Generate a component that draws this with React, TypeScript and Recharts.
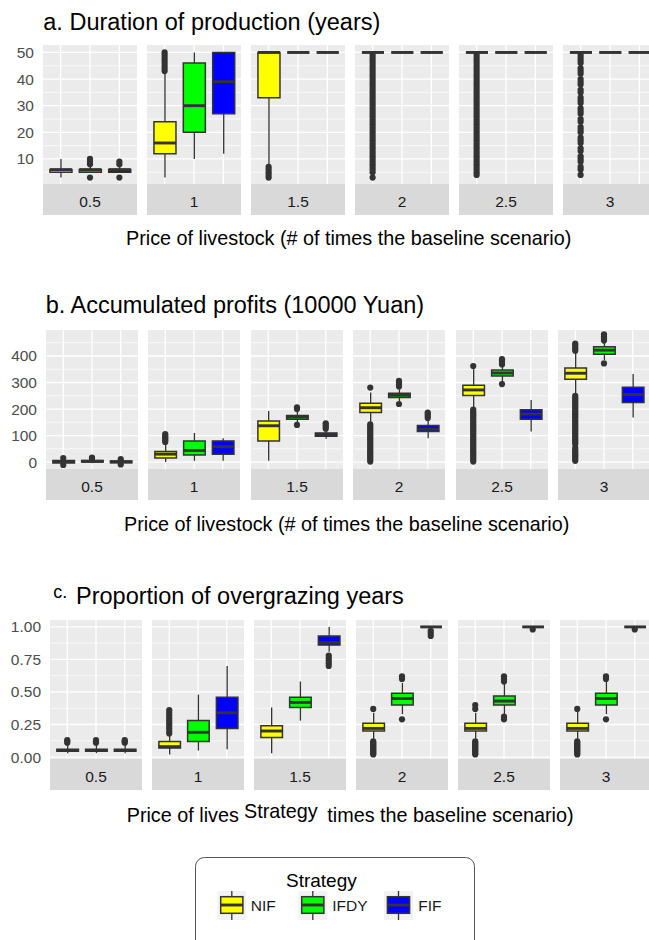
import React from "react";
import { ComposedChart, Bar, Scatter, XAxis, YAxis, CartesianGrid } from "recharts";

const FONT = '"Liberation Sans", Arial, Helvetica, sans-serif';
const INK = "#333333";
const FILL: Record<string, string> = { NIF: "#FFFF00", IFDY: "#00FF00", FIF: "#0000FF" };

const strategies = ["NIF", "IFDY", "FIF"];
const prices = ["0.5", "1", "1.5", "2", "2.5", "3"];

// every entry: [lower whisker, Q1, median, Q3, upper whisker], one per price
const durationNIF = [[3, 5, 6, 6, 10], [3, 12, 16, 24, 42], [8, 33, 50, 50, 50], [50, 50, 50, 50, 50], [50, 50, 50, 50, 50], [50, 50, 50, 50, 50]];
const durationIFDY = [[5, 5, 6, 6, 7], [10, 20, 30, 46, 50], [50, 50, 50, 50, 50], [50, 50, 50, 50, 50], [50, 50, 50, 50, 50], [50, 50, 50, 50, 50]];
const durationFIF = [[5, 5, 6, 6, 7], [12, 27, 39, 50, 50], [50, 50, 50, 50, 50], [50, 50, 50, 50, 50], [50, 50, 50, 50, 50], [50, 50, 50, 50, 50]];
const durationNIFOut = [
  [],
  [43, 44, 45, 46, 47, 48, 49, 50],
  [3, 4, 5, 6, 7],
  [3, 5, 6, 7, 8, 9, 10, 11, 12, 13, 14, 15, 16, 17, 18, 19, 20, 21, 22, 23, 24, 25, 26, 27, 28, 29, 30, 31, 32, 33, 34, 35, 36, 37, 38, 39, 40, 41, 42, 43, 44, 45, 46, 47, 48, 49],
  [4, 5, 6, 7, 8, 9, 10, 11, 12, 13, 14, 15, 16, 17, 18, 19, 20, 21, 22, 23, 24, 25, 26, 27, 28, 29, 30, 31, 32, 33, 34, 35, 36, 37, 38, 39, 40, 41, 42, 43, 44, 45, 46, 47, 48, 49],
  [4, 6, 7, 9, 10, 11, 13, 14, 16, 17, 18, 20, 21, 22, 24, 25, 27, 28, 29, 31, 32, 33, 35, 36, 38, 39, 40, 42, 43, 44, 46, 47, 48, 49],
];
const durationIFDYOut = [[3, 8, 9, 10], [], [], [], [], []];
const durationFIFOut = [[3, 8, 9], [], [], [], [], []];

const profitNIF = [[-8, -3, 2, 6, 12], [0, 15, 30, 40, 70], [5, 80, 137, 155, 193], [150, 187, 205, 222, 262], [205, 251, 272, 290, 350], [255, 312, 335, 355, 415]];
const profitIFDY = [[-4, 0, 3, 6, 10], [5, 27, 44, 80, 110], [150, 162, 170, 176, 195], [230, 244, 252, 260, 275], [300, 325, 336, 347, 362], [385, 407, 422, 435, 452]];
const profitFIF = [[-6, -2, 1, 4, 8], [5, 30, 58, 80, 90], [88, 97, 104, 110, 120], [90, 115, 124, 138, 160], [115, 162, 181, 197, 234], [168, 225, 255, 282, 332]];
const profitNIFOut = [
  [15, -11],
  [76, 82, 88, 94, 100, 106],
  [],
  [281, 2, 9, 16, 23, 30, 37, 44, 51, 58, 65, 72, 79, 86, 93, 100, 107, 114, 121, 128, 135, 142],
  [362, 2, 9, 16, 23, 30, 37, 44, 51, 58, 65, 72, 79, 86, 93, 100, 107, 114, 121, 128, 135, 142, 149, 156, 163, 170, 177, 184, 191, 198],
  [420, 427, 434, 441, 447, 5, 12, 19, 26, 33, 40, 47, 54, 68, 75, 82, 89, 96, 103, 110, 117, 124, 131, 138, 145, 152, 159, 166, 173, 180, 187, 194, 201, 208, 215, 222, 229, 236, 243, 250],
];
const profitIFDYOut = [[14, 17], [], [140, 200, 206], [219, 285, 292, 300, 306], [294, 368, 375, 382, 388], [372, 458, 466, 474, 482]];
const profitFIFOut = [[11, -9], [], [126, 133, 140, 146], [166, 174, 181, 187], [], []];

const overNIF = [[0.03, 0.045, 0.05, 0.06, 0.1], [0.02, 0.07, 0.08, 0.12, 0.16], [0.03, 0.15, 0.2, 0.24, 0.38], [0.14, 0.2, 0.22, 0.26, 0.34], [0.14, 0.2, 0.22, 0.26, 0.34], [0.14, 0.2, 0.22, 0.26, 0.35]];
const overIFDY = [[0.03, 0.045, 0.05, 0.06, 0.1], [0.05, 0.12, 0.19, 0.28, 0.48], [0.28, 0.38, 0.42, 0.46, 0.58], [0.33, 0.4, 0.45, 0.49, 0.57], [0.33, 0.4, 0.43, 0.47, 0.56], [0.33, 0.4, 0.45, 0.49, 0.58]];
const overFIF = [[0.03, 0.045, 0.05, 0.06, 0.1], [0.06, 0.22, 0.34, 0.46, 0.7], [0.81, 0.86, 0.88, 0.93, 1], [1, 1, 1, 1, 1], [1, 1, 1, 1, 1], [1, 1, 1, 1, 1]];
const overNIFOut = [
  [0.11, 0.12, 0.13],
  [0.18, 0.2, 0.22, 0.24, 0.26, 0.28, 0.3, 0.32, 0.34, 0.36],
  [],
  [0.37, 0.02, 0.03, 0.04, 0.05, 0.06, 0.07, 0.08, 0.09, 0.1, 0.11, 0.12],
  [0.37, 0.4, 0.02, 0.03, 0.04, 0.05, 0.06, 0.07, 0.08, 0.09, 0.1, 0.11, 0.12],
  [0.37, 0.02, 0.03, 0.04, 0.05, 0.06, 0.07, 0.08, 0.09, 0.1, 0.11, 0.12],
];
const overIFDYOut = [[0.11, 0.12, 0.13], [], [], [0.29, 0.6, 0.62], [0.29, 0.31, 0.58, 0.6, 0.62], [0.29, 0.6, 0.62]];
const overFIFOut = [[0.11, 0.12, 0.13], [], [0.7, 0.72, 0.74, 0.76, 0.78], [0.93, 0.95, 0.97], [0.98], [0.98]];

const durationTicks = [10, 20, 30, 40, 50];
const durationMinor = [5, 15, 25, 35, 45];
const profitTicks = [0, 100, 200, 300, 400];
const profitMinor = [50, 150, 250, 350, 450];
const overTicks = [0, 0.25, 0.5, 0.75, 1];
const overMinor = [0.125, 0.375, 0.625, 0.875];

const PLOT_H = 139;
const STRIP_H = 31;
const PAD = 10; // room above/below the plot so edge tick labels are not clipped

type Panel = {
  top: number;
  left: number;
  step: number;
  facetW: number;
  domain: number[];
  ticks: number[];
  minor: number[];
  stats: number[][][];
  outliers: number[][][];
  format: (v: number) => string;
};

const panels: Panel[] = [
  {
    top: 45, left: 43.3, step: 104, facetW: 94, domain: [0.6, 52.8],
    ticks: durationTicks, minor: durationMinor,
    stats: [durationNIF, durationIFDY, durationFIF],
    outliers: [durationNIFOut, durationIFDYOut, durationFIFOut],
    format: (v) => String(v),
  },
  {
    top: 330, left: 45.7, step: 102.46, facetW: 92, domain: [-26, 498],
    ticks: profitTicks, minor: profitMinor,
    stats: [profitNIF, profitIFDY, profitFIF],
    outliers: [profitNIFOut, profitIFDYOut, profitFIFOut],
    format: (v) => String(v),
  },
  {
    top: 620, left: 50, step: 101.9, facetW: 92, domain: [-0.015, 1.053],
    ticks: overTicks, minor: overMinor,
    stats: [overNIF, overIFDY, overFIF],
    outliers: [overNIFOut, overIFDYOut, overFIFOut],
    format: (v) => v.toFixed(2),
  },
];

const facetLeft = (p: Panel, i: number) => Math.round(p.left + i * p.step);

function WhiskerShape(props: any) {
  const { x, y, width, height } = props;
  if (![x, y, width, height].every(Number.isFinite)) return null;
  const cx = x + width / 2;
  return <line x1={cx} x2={cx} y1={y} y2={y + height} stroke={INK} strokeWidth={1.3} />;
}

function BoxShape(props: any) {
  const { x, y, width, height, payload } = props;
  if (![x, y, width, height].every(Number.isFinite)) return null;
  const top = height < 0 ? y + height : y;
  const h = Math.abs(height);
  return (
    <path
      d={`M${x},${top}h${width}v${h}h${-width}Z`}
      fill={FILL[payload.strategy]}
      stroke={INK}
      strokeWidth={1.5}
    />
  );
}

function MedianShape(props: any) {
  const { x, y, width } = props;
  if (![x, y, width].every(Number.isFinite)) return null;
  return <line x1={x} x2={x + width} y1={y} y2={y} stroke={INK} strokeWidth={2.9} />;
}

function OutlierShape(props: any) {
  const { cx, cy } = props;
  if (!Number.isFinite(cx) || !Number.isFinite(cy)) return null;
  return <circle cx={cx} cy={cy} r={3.1} fill={INK} />;
}

function Facet({ panel, fi }: { panel: Panel; fi: number }) {
  const left = facetLeft(panel, fi);
  const axisW = fi === 0 ? left : 0;
  const rows = strategies.map((s, i) => {
    const [lo, q1, med, q3, hi] = panel.stats[i][fi];
    return { x: i + 1, strategy: s, whisker: [lo, hi], box: [q1, q3], median: [med, med] };
  });
  const points = strategies.flatMap((s, i) => panel.outliers[i][fi].map((v) => ({ x: i + 1, v })));
  const barW = (panel.facetW * 0.75) / 3.2;
  const xProps = { type: "number" as const, dataKey: "x", domain: [0.4, 3.6], ticks: [1, 2, 3], allowDataOverflow: true, hide: true };

  return (
    <div style={{ position: "absolute", left: left - axisW, top: panel.top - PAD }}>
      <ComposedChart
        width={panel.facetW + axisW}
        height={PLOT_H + 2 * PAD}
        data={rows}
        margin={{ top: PAD, right: 0, bottom: PAD, left: 0 }}
      >
        <XAxis {...xProps} />
        <XAxis xAxisId="box" {...xProps} />
        <XAxis xAxisId="med" {...xProps} />
        <XAxis xAxisId="out" {...xProps} />
        <YAxis
          type="number"
          domain={panel.domain}
          allowDataOverflow
          ticks={panel.ticks}
          interval={0}
          hide={fi !== 0}
          width={axisW}
          axisLine={false}
          tickLine={false}
          tickSize={0}
          tickMargin={9}
          tickFormatter={panel.format}
          tick={{ fill: "#4D4D4D", fontSize: 15.5, fontFamily: FONT }}
        />
        <CartesianGrid
          fill="#EBEBEB"
          stroke="#FFFFFF"
          strokeWidth={1.3}
          horizontalValues={panel.ticks}
          verticalValues={[1, 2, 3]}
        />
        <CartesianGrid fill="none" stroke="#FFFFFF" strokeWidth={0.7} vertical={false} horizontalValues={panel.minor} />
        <Bar dataKey="whisker" barSize={barW} shape={WhiskerShape} isAnimationActive={false} />
        <Bar xAxisId="box" dataKey="box" barSize={barW} shape={BoxShape} isAnimationActive={false} />
        <Bar xAxisId="med" dataKey="median" barSize={barW} shape={MedianShape} isAnimationActive={false} />
        <Scatter xAxisId="out" data={points} dataKey="v" shape={OutlierShape} isAnimationActive={false} />
      </ComposedChart>
    </div>
  );
}

const titleStyle = { fontFamily: FONT, fill: "#000" };

function Overlay() {
  const legendKeys = [217.3, 298.3, 384];
  const legendLabels = [250.7, 332.3, 418.3];
  return (
    <svg width={649} height={940} style={{ position: "absolute", left: 0, top: 0, pointerEvents: "none" }}>
      <text x={43.3} y={29.5} fontSize={23.5} {...titleStyle}>a. Duration of production (years)</text>
      <text x={45.7} y={313.3} fontSize={23.5} {...titleStyle}>b. Accumulated profits (10000 Yuan)</text>
      <text x={53.3} y={597.5} fontSize={18} {...titleStyle}>c.</text>
      <text x={76} y={604} fontSize={23.5} {...titleStyle}>Proportion of overgrazing years</text>

      {panels.map((p, pi) =>
        prices.map((price, fi) => {
          const x = facetLeft(p, fi);
          const y = p.top + PLOT_H;
          return (
            <g key={`${pi}-${fi}`}>
              <rect x={x} y={y} width={p.facetW} height={STRIP_H} fill="#D9D9D9" />
              <text x={x + p.facetW / 2} y={y + 22.7} textAnchor="middle" fontSize={15.5} fontFamily={FONT} fill="#1A1A1A">
                {price}
              </text>
            </g>
          );
        })
      )}

      <text x={126} y={245} fontSize={19.8} {...titleStyle}>Price of livestock (# of times the baseline scenario)</text>
      <text x={124} y={530.5} fontSize={19.8} {...titleStyle}>Price of livestock (# of times the baseline scenario)</text>
      <text x={126.7} y={821.7} fontSize={19.8} {...titleStyle}>Price of lives</text>
      <text x={244} y={818} fontSize={19.8} {...titleStyle}>Strategy</text>
      <text x={327.3} y={821.7} fontSize={19.8} {...titleStyle}>times the baseline scenario)</text>

      <rect x={195.5} y={857.5} width={279} height={120} rx={9} fill="#FFFFFF" stroke="#555555" strokeWidth={1} />
      <text x={286} y={886.7} fontSize={19} {...titleStyle}>Strategy</text>
      {strategies.map((s, i) => {
        const kx = legendKeys[i];
        return (
          <g key={s}>
            <rect x={kx} y={891} width={29} height={29} fill="#F2F2F2" />
            <line x1={kx + 14.5} x2={kx + 14.5} y1={891} y2={920} stroke={INK} strokeWidth={1.3} />
            <rect x={kx + 3.4} y={896.7} width={22.2} height={16.6} fill={FILL[s]} stroke={INK} strokeWidth={1.5} />
            <line x1={kx + 3.4} x2={kx + 25.6} y1={905} y2={905} stroke={INK} strokeWidth={2.9} />
            <text x={legendLabels[i]} y={910.5} fontSize={15.5} fontFamily={FONT} fill="#1A1A1A">{s}</text>
          </g>
        );
      })}
    </svg>
  );
}

export default function App() {
  return (
    <div style={{ position: "absolute", left: 0, top: 0, width: 649, height: 940, overflow: "hidden", background: "#FFFFFF", fontFamily: FONT }}>
      {panels.map((p, pi) => prices.map((_, fi) => <Facet key={`${pi}-${fi}`} panel={p} fi={fi} />))}
      <Overlay />
    </div>
  );
}
